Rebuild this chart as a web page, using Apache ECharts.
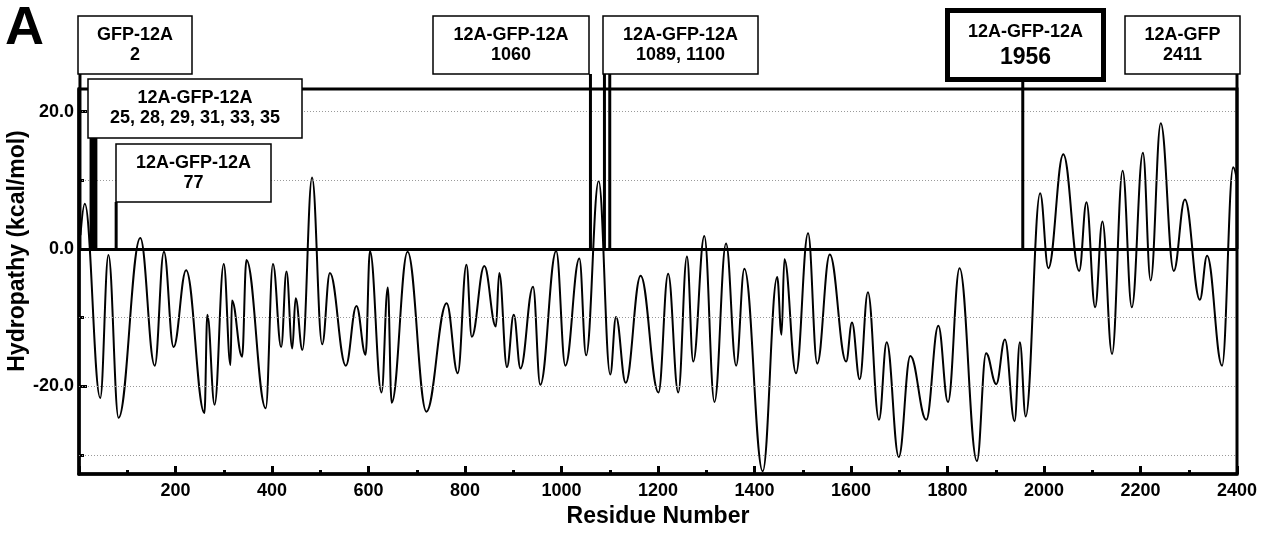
<!DOCTYPE html>
<html>
<head>
<meta charset="utf-8">
<title>Hydropathy</title>
<script src="https://cdn.jsdelivr.net/npm/echarts@6.0.0/dist/echarts.min.js"></script>
<style>
  html, body { margin: 0; padding: 0; background: #fff; }
  #chart { width: 1270px; height: 533px; }
</style>
</head>
<body>
<div id="chart"></div>
<script>
// hydropathy profile (peaks and troughs)
var residues = [3, 12, 44, 61, 82, 127, 157, 176, 196, 222, 260, 266, 281, 300, 314, 317, 338, 347, 387, 402,
  419, 430, 442, 449, 463, 483, 504, 520, 553, 575, 594, 603, 627, 640, 648, 681, 720, 762, 785, 803,
  814, 840, 864, 871, 887, 901, 915, 941, 956, 989, 1008, 1037, 1051, 1077, 1101, 1113, 1133, 1164, 1201, 1221,
  1242, 1260, 1273, 1296, 1317, 1341, 1362, 1379, 1417, 1447, 1456, 1462, 1486, 1511, 1530, 1556, 1590, 1602, 1618, 1635,
  1658, 1674, 1699, 1723, 1756, 1781, 1801, 1825, 1861, 1880, 1901, 1919, 1939, 1950, 1962, 1992, 2009, 2040, 2073, 2088,
  2106, 2121, 2141, 2163, 2182, 2205, 2221, 2242, 2269, 2292, 2323, 2338, 2369, 2392, 2400];
var hydropathy = [2, 6.6, -21.7, -0.9, -24.6, 1.6, -17, -0.4, -14.3, -3.1, -23.9, -9.6, -22.7, -2.2, -16.9, -7.5, -15.7, -1.6, -23.2, -2.2,
  -14.3, -3.3, -14.5, -7.2, -14.7, 10.4, -13.9, -3.5, -17, -8.3, -15.4, -0.3, -20.9, -5.6, -22.4, -0.4, -23.7, -7.9, -18.1, -2.3,
  -12.8, -2.5, -11.3, -3.5, -17.2, -9.6, -17.4, -5.5, -19.8, -0.3, -17, -1.4, -15.5, 9.9, -18.3, -9.9, -19.5, -3.9, -20.9, -3.6,
  -20.9, -1.1, -16.4, 1.9, -22.3, 0.8, -17, -2.9, -32.4, -4.1, -12.5, -1.5, -18.1, 2.3, -16.7, -0.8, -16.4, -10.7, -19, -6.3,
  -24.9, -13.6, -30.3, -15.6, -24.9, -11.2, -22.3, -2.8, -30.9, -15.2, -19.7, -13.2, -25.1, -13.6, -24.4, 8.1, -2.8, 13.8, -3.2, 6.8,
  -8.5, 4.0, -15.3, 11.4, -8.5, 14.0, -4.6, 18.3, -3.2, 7.2, -7.4, -1.0, -17, 11.9, 10];

// insertion sites
var constructs = ['GFP-12A', '12A-GFP-12A', '12A-GFP-12A', '12A-GFP-12A', '12A-GFP-12A', '12A-GFP-12A', '12A-GFP'];
var siteResidues = [[2], [25, 28, 29, 31, 33, 35], [77], [1060], [1089, 1100], [1956], [2411]];

var gridValues = [20, 10, -10, -20, -30];
var yLabelValues = [20, 0, -20];
var yMinorTicks = [10, -10, -30];

var xMin = 0, xMax = 2400, yMin = -32.8, yMax = 23.3;

// box layout (pixels)
var boxLayout = [
  { x: 78, y: 16, w: 114, h: 58, border: 1.5, big: false },
  { x: 88, y: 79, w: 214, h: 59, border: 1.5, big: false },
  { x: 116, y: 144, w: 155, h: 58, border: 1.5, big: false },
  { x: 433, y: 16, w: 156, h: 58, border: 1.5, big: false },
  { x: 603, y: 16, w: 155, h: 58, border: 1.5, big: false },
  { x: 947.5, y: 10.5, w: 156, h: 69, border: 5, big: true },
  { x: 1125, y: 16, w: 115, h: 58, border: 1.5, big: false }
];

var FONT = 'Liberation Sans, Arial, sans-serif';

var chart = echarts.init(document.getElementById('chart'));

var curve = residues.map(function (r, i) { return [r, hydropathy[i]]; });

var lineMarks = gridValues.map(function (v) {
  return { yAxis: v, lineStyle: { color: '#9a9a9a', width: 1, type: [1, 2] } };
});
lineMarks.push({ yAxis: 0, lineStyle: { color: '#000', width: 3, type: 'solid' } });

var option = {
  animation: false,
  backgroundColor: '#fff',
  grid: {
    left: 79,
    right: 33,
    top: 89,
    bottom: 58,
    show: true,
    borderColor: '#000',
    borderWidth: 3,
    backgroundColor: 'transparent'
  },
  xAxis: {
    type: 'value',
    min: xMin,
    max: xMax,
    interval: 200,
    name: 'Residue Number',
    nameLocation: 'middle',
    nameGap: 28,
    nameTextStyle: { fontFamily: FONT, fontWeight: 'bold', fontSize: 23, color: '#000' },
    axisLine: { show: true, onZero: false, lineStyle: { color: '#000', width: 3.5 } },
    axisTick: { show: true, inside: true, length: 8, lineStyle: { color: '#000', width: 3 } },
    minorTick: { show: true, splitNumber: 2, length: 4, lineStyle: { color: '#000', width: 3 } },
    splitLine: { show: false },
    axisLabel: {
      margin: 8,
      showMinLabel: false,
      fontFamily: FONT, fontWeight: 'bold', fontSize: 18, color: '#000',
      formatter: function (v) { return v === 0 ? '' : String(v); }
    }
  },
  yAxis: [
    {
      type: 'value',
      position: 'left',
      min: yMin,
      max: yMax,
      axisLine: { show: true, onZero: false, lineStyle: { color: '#000', width: 3.5 } },
      axisTick: { show: true, inside: true, length: 8, customValues: yLabelValues, lineStyle: { color: '#000', width: 3 } },
      splitLine: { show: false },
      axisLabel: {
        margin: 5,
        customValues: yLabelValues,
        fontFamily: FONT, fontWeight: 'bold', fontSize: 18, color: '#000',
        formatter: function (v) { return v.toFixed(1); }
      }
    },
    {
      type: 'value',
      position: 'left',
      offset: 0,
      min: yMin,
      max: yMax,
      axisLine: { show: false, onZero: false },
      axisTick: { show: true, inside: true, length: 5, customValues: yMinorTicks, lineStyle: { color: '#000', width: 3 } },
      splitLine: { show: false },
      axisLabel: { show: false }
    }
  ],
  graphic: [
    {
      type: 'text', x: 5, y: 29, z: 20,
      style: { text: 'A', font: 'bold 54px ' + FONT, fill: '#000', align: 'left', verticalAlign: 'middle' }
    },
    {
      type: 'text', x: 18, y: 251, rotation: Math.PI / 2, z: 20,
      style: { text: 'Hydropathy (kcal/mol)', font: 'bold 23px ' + FONT, fill: '#000', align: 'center', verticalAlign: 'middle' }
    }
  ],
  series: [
    {
      type: 'line',
      data: curve,
      showSymbol: false,
      symbol: 'none',
      smooth: 0.4,
      smoothMonotone: 'x',
      clip: true,
      lineStyle: { color: '#000', width: 2 },
      z: 3,
      markLine: {
        silent: true,
        symbol: ['none', 'none'],
        label: { show: false },
        data: lineMarks
      }
    },
    {
      type: 'custom',
      clip: false,
      z: 10,
      data: siteResidues.map(function (r, i) { return [r[0], 0, i]; }),
      encode: { x: 0, y: 1 },
      renderItem: function (params, api) {
        var i = params.dataIndex;
        var box = boxLayout[i];
        var zeroY = api.coord([xMin, 0])[1];
        var children = [];
        siteResidues[i].forEach(function (r) {
          var x = api.coord([Math.min(r, xMax), 0])[0];
          children.push({
            type: 'line',
            shape: { x1: x, y1: box.y + box.h, x2: x, y2: zeroY },
            style: { stroke: '#000', lineWidth: 3 }
          });
        });
        children.push({
          type: 'rect',
          shape: { x: box.x, y: box.y, width: box.w, height: box.h },
          style: { fill: '#fff', stroke: '#000', lineWidth: box.border }
        });
        var cx = box.x + box.w / 2;
        var cy = box.y + box.h / 2;
        var d = box.big ? 13 : 10;
        children.push({
          type: 'text', x: cx, y: cy - d,
          style: { text: constructs[i], font: 'bold 18px ' + FONT, fill: '#000', align: 'center', verticalAlign: 'middle' }
        });
        children.push({
          type: 'text', x: cx, y: cy + d,
          style: {
            text: siteResidues[i].join(', '),
            font: 'bold ' + (box.big ? 23 : 18) + 'px ' + FONT,
            fill: '#000', align: 'center', verticalAlign: 'middle'
          }
        });
        return { type: 'group', children: children };
      }
    }
  ]
};

chart.setOption(option);
</script>
</body>
</html>
